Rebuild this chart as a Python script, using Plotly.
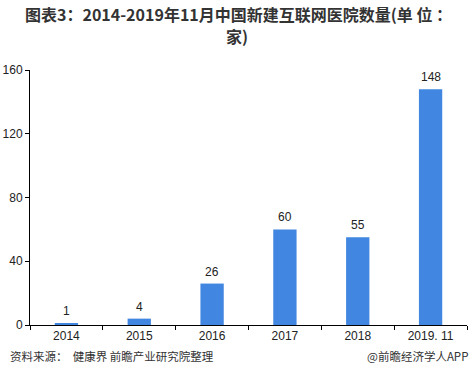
import plotly.graph_objects as go

categories = ["2014", "2015", "2016", "2017", "2018", "2019. 11"]
values = [1, 4, 26, 60, 55, 148]
y_ticks = [0, 40, 80, 120, 160]

title_line1 = "<b>图表3：2014-2019年11月中国新建互联网医院数量(单 位 ：</b>"
title_line2 = "<b>家)</b>"
source_text = "资料来源：  健康界 前瞻产业研究院整理"
brand_text = "@前瞻经济学人APP"

bar_color = "#4186E0"

fig = go.Figure()
fig.add_trace(go.Bar(
    x=categories, y=values,
    marker=dict(color=bar_color, line=dict(width=0)),
    width=0.32,
    hoverinfo="skip",
))

annotations = []
for i, v in enumerate(values):
    annotations.append(dict(x=i, y=v, xref="x", yref="y", text=str(v), showarrow=False,
                            yanchor="bottom", yshift=3,
                            font=dict(family="Liberation Sans, Arial", size=12, color="#222")))

title_font = dict(family="Noto Sans CJK SC", size=16, color="#333")
annotations.append(dict(xref="paper", yref="paper", x=0.476, y=1, yanchor="middle", yshift=56,
                        xanchor="center", showarrow=False, text=title_line1, font=title_font))
annotations.append(dict(xref="paper", yref="paper", x=0.474, y=1, yanchor="middle", yshift=34,
                        xanchor="center", showarrow=False, text=title_line2, font=title_font))
annotations.append(dict(xref="paper", yref="paper", x=-0.05, y=-0.12, xanchor="left", yanchor="middle",
                        showarrow=False, text=source_text,
                        font=dict(family="Noto Sans CJK SC", size=11.5, color="#333")))
annotations.append(dict(xref="paper", yref="paper", x=1.007, y=-0.12, xanchor="right", yanchor="middle",
                        showarrow=False, text=brand_text,
                        font=dict(family="Noto Sans CJK SC", size=11.5, color="#333")))

fig.update_layout(
    width=475, height=384,
    margin=dict(l=30, r=8, t=70, b=59, autoexpand=False),
    paper_bgcolor="white", plot_bgcolor="white",
    showlegend=False,
    xaxis=dict(
        type="category", automargin=False,
        range=[-0.5, len(categories) - 0.5],
        showline=True, linecolor="#000", linewidth=1,
        ticks="outside", ticklen=4, tickcolor="#000",
        tickson="boundaries",
        showgrid=False, zeroline=False,
        tickfont=dict(family="Liberation Sans, Arial", size=12, color="#222"),
        fixedrange=True,
    ),
    yaxis=dict(
        automargin=False,
        range=[0, 160], tickvals=y_ticks,
        showline=True, linecolor="#000", linewidth=1,
        ticks="outside", ticklen=4, tickcolor="#000",
        showgrid=False, zeroline=False,
        tickfont=dict(family="Liberation Sans, Arial", size=12, color="#222"),
        fixedrange=True,
    ),
    annotations=annotations,
)

fig.write_html("out.html", config={"displayModeBar": False},
               post_script="document.body.style.margin='0';document.body.style.overflow='hidden';")
